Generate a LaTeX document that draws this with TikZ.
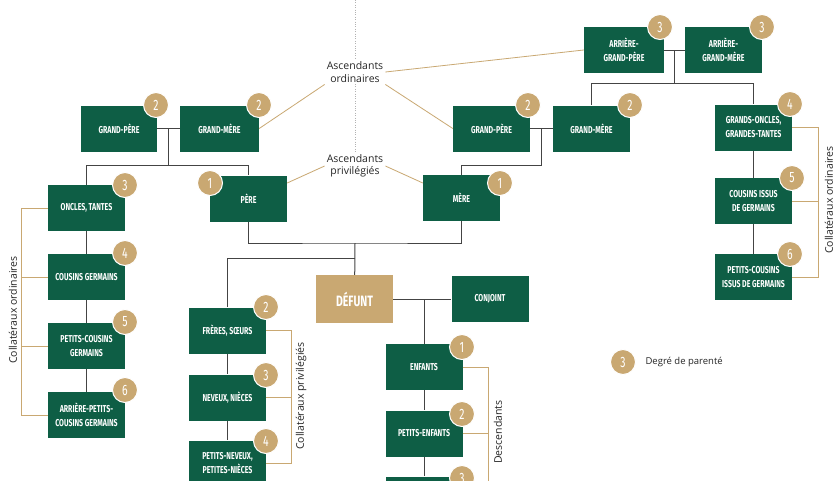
\documentclass[tikz,border=0pt]{standalone}
\usepackage{fontspec}
\setmainfont{Open Sans}
\newfontfamily\boxfont{Fira Sans}[FakeStretch=0.7]
\definecolor{grn}{HTML}{0E5E45}
\definecolor{tan}{HTML}{C9A872}
\definecolor{lnk}{HTML}{444444}
\begin{document}
\begin{tikzpicture}[x=1pt,y=-1pt,
 box/.style={fill=grn,text=white,minimum width=77pt,minimum height=46pt,inner sep=1pt,align=center,font=\boxfont\bfseries\fontsize{10}{14}\selectfont},
 badge/.style={circle,fill=tan,draw=white,line width=1pt,minimum size=25pt,inner sep=0pt,text=white,font=\boxfont\fontsize{15}{15}\selectfont},
 con/.style={lnk,line width=1pt},
 br/.style={tan,line width=0.8pt},
 lab/.style={font=\fontsize{10.5}{12.5}\selectfont,align=center,text=black!85},
 vlab/.style={font=\fontsize{10.5}{12}\selectfont,rotate=90,text=black!85}]
\clip (0,0) rectangle (840,480);
\fill[white] (0,0) rectangle (840,480);
\draw[gray!60,dotted] (355,0) -- (355,155);
% boxes
\node[box,minimum width=80pt] (agp) at (624,50) {ARRIÈRE-\\GRAND-PÈRE};
\node[box] (agm) at (723.5,50) {ARRIÈRE-\\GRAND-MÈRE};
\node[box,minimum width=76pt] (lgp) at (119,128.5) {GRAND-PÈRE};
\node[box,minimum width=79pt] (lgm) at (219.5,128.5) {GRAND-MÈRE};
\node[box] (rgp) at (491.5,128.5) {GRAND-PÈRE};
\node[box] (rgm) at (591.5,128.5) {GRAND-MÈRE};
\node[box] (go) at (753.5,127.5) {GRANDS-ONCLES,\\GRANDES-TANTES};
\node[box] (pere) at (248.5,198.5) {PÈRE};
\node[box] (mere) at (461.5,198) {MÈRE};
\node[box] (onc) at (86.5,208) {ONCLES, TANTES};
\node[box] (cg) at (86.5,277) {COUSINS GERMAINS};
\node[box] (pcg) at (86.5,346) {PETITS-COUSINS\\GERMAINS};
\node[box] (apcg) at (86.5,415) {ARRIÈRE-PETITS-\\COUSINS GERMAINS};
\node[box] (cig) at (753.5,201) {COUSINS ISSUS\\DE GERMAINS};
\node[box] (pcig) at (753.5,277) {PETITS-COUSINS\\ISSUS DE GERMAINS};
\node[box,fill=tan,minimum height=48pt,font=\boxfont\bfseries\fontsize{15}{15}\selectfont] (def) at (354.5,299) {DÉFUNT};
\node[box] (conj) at (490,299) {CONJOINT};
\node[box] (fs) at (227.5,330.5) {FRÈRES, SŒURS};
\node[box] (nev) at (227.5,397.5) {NEVEUX, NIÈCES};
\node[box] (pn) at (227.5,463.5) {PETITS-NEVEUX,\\PETITES-NIÈCES};
\node[box] (enf) at (424,367) {ENFANTS};
\node[box] (pe) at (424,433.5) {PETITS-ENFANTS};
\node[box] (ape) at (424,499.5) {};
% connectors
\coordinate (j1) at (674,50); \coordinate (j1b) at (674,83);
\draw[con] (agp) -- (agm);
\draw[con] (j1) -- (j1b) -| (rgm); \draw[con] (j1b) -| (go);
\coordinate (j2) at (168,128.5); \coordinate (j2b) at (168,165);
\draw[con] (lgp) -- (lgm);
\draw[con] (j2) -- (j2b) -| (onc); \draw[con] (j2b) -| (pere);
\coordinate (j3) at (541,128.5); \coordinate (j3b) at (541,165);
\draw[con] (rgp) -- (rgm);
\draw[con] (j3) -- (j3b) -| (mere);
\coordinate (j4) at (355,243); \coordinate (j5) at (355,258);
\draw[con] (pere.south) |- (j4) -| (mere.south);
\draw[con] (j4) -- (def);
\draw[con] (j5) -| (fs);
\draw[con] (fs) -- (nev) -- (pn);
\draw[con] (onc) -- (cg) -- (pcg) -- (apcg);
\draw[con] (go) -- (cig) -- (pcig);
\draw[con] (def) -- (conj);
\coordinate (j6) at (424,299);
\draw[con] (j6) -- (enf) -- (pe) -- (ape);
% badges
\node[badge] at (660,27) {3};
\node[badge] at (762,27) {3};
\node[badge] at (156,105) {2};
\node[badge] at (259,105) {2};
\node[badge] at (528,105) {2};
\node[badge] at (630,105) {2};
\node[badge] at (790,104) {4};
\node[badge] at (210,183) {1};
\node[badge] at (500,183) {1};
\node[badge] at (125,185) {3};
\node[badge] at (125,253) {4};
\node[badge] at (125,322) {5};
\node[badge] at (125,390) {6};
\node[badge] at (792,178) {5};
\node[badge] at (790,254) {6};
\node[badge] at (266,307) {2};
\node[badge] at (266,375) {3};
\node[badge] at (266,441) {4};
\node[badge] at (462,347) {1};
\node[badge] at (462,414) {2};
\node[badge] at (462,478) {3};
\node[badge] (leg) at (623,362) {3};
\node[lab,anchor=west,font=\fontsize{9.5}{11}\selectfont] (legt) at (642,362) {Degré de parenté};
% tan labels
\node[lab,fill=white,inner sep=2pt] (ao) at (355,72) {Ascendants\\ordinaires};
\node[lab,fill=white,inner sep=2pt] (ap) at (355,166) {Ascendants\\privilégiés};
\draw[br] (ao.east) -- (agp.west);
\draw[br] (ao.south west) -- (lgm.east);
\draw[br] (ao.south east) -- (rgp.west);
\draw[br] (ap.west) -- (pere.east |- 0,183);
\draw[br] (ap.east) -- (mere.west |- 0,183);
% brackets
\draw[br] (onc.west) -- ++(-26,0) |- (apcg.west);
\draw[br] (cg.west) -- ++(-26,0); \draw[br] (pcg.west) -- ++(-26,0);
\node[vlab] (lco) at (13,310) {Collatéraux ordinaires};
\draw[br] (go.east) -- ++(26,0) |- (pcig.east);
\draw[br] (cig.east) -- ++(26,0);
\node[vlab] (rco) at (829,200) {Collatéraux ordinaires};
\draw[br] (fs.east) -- ++(25,0) |- (pn.east);
\draw[br] (nev.east) -- ++(25,0);
\node[vlab] (cp) at (301,396) {Collatéraux privilégiés};
\draw[br] (enf.east) -- ++(26,0) -- ++(0,130);
\draw[br] (pe.east) -- ++(26,0);
\node[vlab] (desc) at (498,432) {Descendants};
\end{tikzpicture}
\end{document}
